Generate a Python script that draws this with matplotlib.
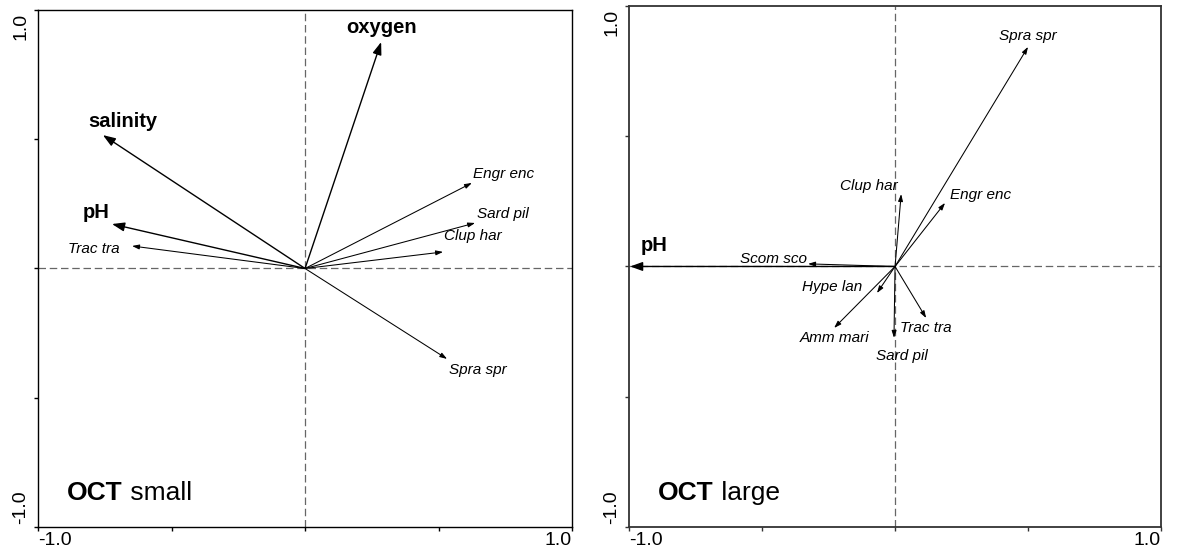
import matplotlib.pyplot as plt

plt.rcParams['font.family'] = ['Liberation Sans', 'DejaVu Sans']

# OCT small: environmental variables and species scores
small_env_names = ['salinity', 'pH', 'oxygen']
small_env_x = [-0.757, -0.723, 0.285]
small_env_y = [0.516, 0.172, 0.876]
small_sp_names = ['Trac tra', 'Engr enc', 'Sard pil', 'Clup har', 'Spra spr']
small_sp_x = [-0.648, 0.625, 0.637, 0.517, 0.532]
small_sp_y = [0.087, 0.331, 0.176, 0.064, -0.350]

# OCT large
large_env_names = ['pH']
large_env_x = [-0.996]
large_env_y = [0.0]
large_sp_names = ['Scom sco', 'Clup har', 'Engr enc', 'Spra spr', 'Hype lan',
                  'Amm mari', 'Trac tra', 'Sard pil']
large_sp_x = [-0.327, 0.023, 0.188, 0.500, -0.068, -0.229, 0.117, -0.004]
large_sp_y = [0.010, 0.278, 0.244, 0.843, -0.102, -0.236, -0.198, -0.274]

# label placement (ha, dx, dy in pixels from arrow head, baseline anchored)
small_env_lab = [('left', -15, 8), ('left', -29, 6), ('center', 0, 9)]
small_sp_lab = [('right', -12, -7), ('left', 1, 5), ('left', 2, 5),
                ('left', 1, 12), ('left', 2, -15)]
large_env_lab = [('left', 11, 15)]
large_sp_lab = [('right', -1, 1), ('right', -3, 4), ('left', 5, 4), ('center', 0, 7),
                ('right', -15, 2), ('center', 0, -14), ('center', 0, -14),
                ('center', 8, -22)]


def draw_arrows(ax, names, xs, ys, labels, bold):
    if bold:
        style = '-|>,head_length=0.75,head_width=0.27'
        lw, fs, weight, fstyle = 1.0, 14.5, 'bold', 'normal'
    else:
        style = '-|>,head_length=0.42,head_width=0.14'
        lw, fs, weight, fstyle = 0.75, 11, 'normal', 'italic'
    for name, x, y, (ha, dx, dy) in zip(names, xs, ys, labels):
        ax.annotate('', xy=(x, y), xytext=(0, 0),
                    arrowprops=dict(arrowstyle=style, lw=lw, color='black',
                                    shrinkA=0, shrinkB=0, mutation_scale=10))
        ax.annotate(name, xy=(x, y), xytext=(dx, dy), textcoords='offset pixels',
                    ha=ha, va='baseline', fontsize=fs, fontweight=weight,
                    fontstyle=fstyle)


def setup_panel(ax, spine_color, spine_lw, title, subtitle):
    ax.set_xlim(-1, 1)
    ax.set_ylim(-1, 1)
    ax.axhline(0, color='#666666', lw=0.9, dashes=(6, 3), zorder=0)
    ax.axvline(0, color='#666666', lw=0.9, dashes=(6, 3), zorder=0)
    ax.set_xticks([-1, -0.5, 0, 0.5, 1])
    ax.set_yticks([-1, -0.5, 0, 0.5, 1])
    ax.set_xticklabels([])
    ax.set_yticklabels([])
    ax.tick_params(direction='out', length=3, width=1, color=spine_color)
    for sp in ax.spines.values():
        sp.set_color(spine_color)
        sp.set_linewidth(spine_lw)

    fs = 14
    ax.annotate('-1.0', xy=(0, 0), xycoords='axes fraction', xytext=(0, -5),
                textcoords='offset pixels', ha='left', va='top', fontsize=fs)
    ax.annotate('1.0', xy=(1, 0), xycoords='axes fraction', xytext=(0, -5),
                textcoords='offset pixels', ha='right', va='top', fontsize=fs)
    ax.annotate('-1.0', xy=(0, 0), xycoords='axes fraction', xytext=(-9, 3),
                textcoords='offset pixels', ha='right', va='bottom', fontsize=fs,
                rotation=90)
    ax.annotate('1.0', xy=(0, 1), xycoords='axes fraction', xytext=(-9, -3),
                textcoords='offset pixels', ha='right', va='top', fontsize=fs,
                rotation=90)

    t = ax.annotate(title, xy=(0, 0), xycoords='axes fraction', xytext=(29, 27),
                    textcoords='offset pixels', ha='left', va='baseline',
                    fontsize=19, fontweight='bold')
    ax.annotate(' ' + subtitle, xycoords=t, xy=(1, 0), va='bottom', ha='left',
                fontsize=19)


fig = plt.figure(figsize=(11.78, 5.58), dpi=100)
ax1 = fig.add_axes([0.0323, 0.0556, 0.4533, 0.9265])
ax2 = fig.add_axes([0.534, 0.0556, 0.4516, 0.9337])

setup_panel(ax1, 'black', 1.0, 'OCT', 'small')
draw_arrows(ax1, small_env_names, small_env_x, small_env_y, small_env_lab, True)
draw_arrows(ax1, small_sp_names, small_sp_x, small_sp_y, small_sp_lab, False)

setup_panel(ax2, '#333333', 1.3, 'OCT', 'large')
draw_arrows(ax2, large_env_names, large_env_x, large_env_y, large_env_lab, True)
draw_arrows(ax2, large_sp_names, large_sp_x, large_sp_y, large_sp_lab, False)

fig.savefig('out.png', dpi=100)
